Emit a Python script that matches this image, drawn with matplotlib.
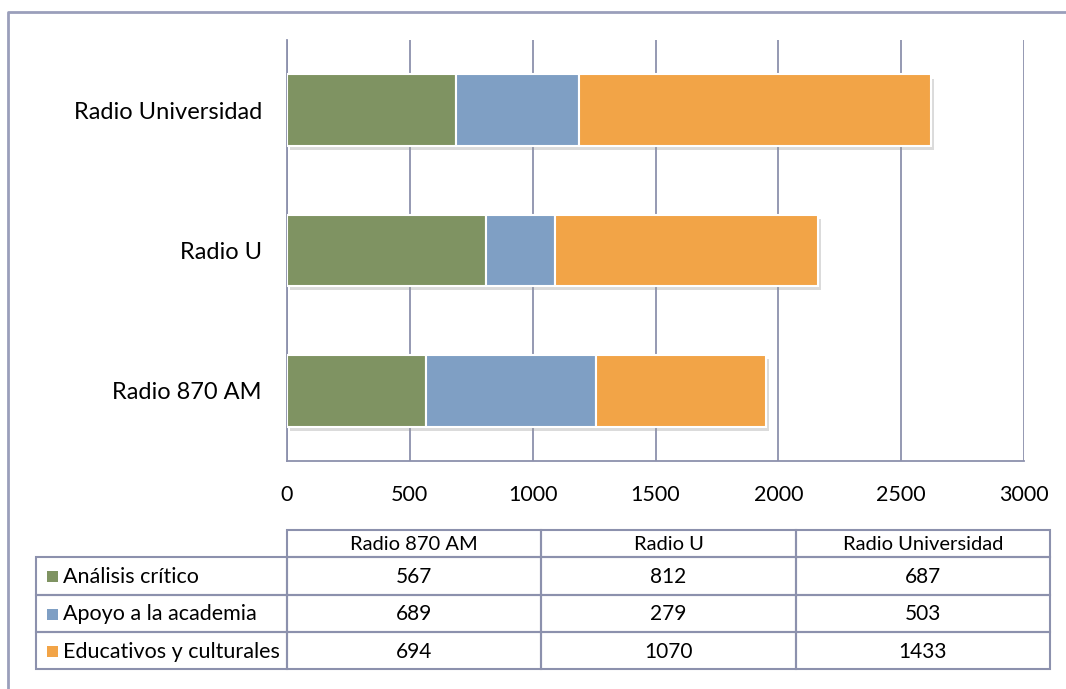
import matplotlib
matplotlib.use('Agg')
from matplotlib import pyplot as plt
from matplotlib import patheffects as pe
from matplotlib.patches import Rectangle

plt.rcParams['font.family'] = ['Lato', 'DejaVu Sans']

emisoras = ['Radio 870 AM', 'Radio U', 'Radio Universidad']
series = ['Análisis crítico', 'Apoyo a la academia', 'Educativos y culturales']
analisis = [567, 812, 687]
apoyo = [689, 279, 503]
educativos = [694, 1070, 1433]
colores = ['#7f9362', '#7f9fc4', '#f2a447']
ticks_x = [0, 500, 1000, 1500, 2000, 2500, 3000]

W, H = 1066, 689
gris = '#8c91ad'

fig = plt.figure(figsize=(W / 100, H / 100), dpi=100)

# marco exterior y tabla, en coordenadas de pixel
fondo = fig.add_axes([0, 0, 1, 1])
fondo.set_xlim(0, W)
fondo.set_ylim(H, 0)
fondo.axis('off')
fondo.plot([8, 8, W + 5], [H + 5, 12, 12], color='#9a9fbb', lw=2, clip_on=False)

# grafico
ax = fig.add_axes([287 / W, 1 - 461 / H, (1024 - 287) / W, (461 - 40) / H])
valores = [analisis, apoyo, educativos]
izq = [0, 0, 0]
sombra = [pe.SimplePatchShadow(offset=(2, -3), shadow_rgbFace='#999999', alpha=0.35), pe.Normal()]
for nombre, vals, c in zip(series, valores, colores):
    barras = ax.barh(emisoras, vals, left=izq, height=0.51, color=c,
                     edgecolor='white', linewidth=1.5, label=nombre, zorder=3)
    for b in barras:
        b.set_path_effects(sombra)
    izq = [a + b for a, b in zip(izq, vals)]

ax.set_xlim(0, 3000)
ax.set_ylim(-0.5, 2.5)
ax.set_xticks(ticks_x)
ax.set_xticklabels([str(t) for t in ticks_x], fontsize=15.5)
ax.tick_params(axis='x', length=0, pad=17)
ax.tick_params(axis='y', length=0, pad=18, labelsize=17)
ax.grid(axis='x', color=gris, lw=1.3, zorder=0)
for s in ['top', 'right']:
    ax.spines[s].set_visible(False)
ax.spines['left'].set_color(gris)
ax.spines['bottom'].set_color(gris)
ax.spines['left'].set_linewidth(1.3)
ax.spines['bottom'].set_linewidth(1.3)

# tabla de datos
xs = [36, 287, 541, 796, 1050]
ys = [530, 557, 595, 632, 669]
lw_t = 1.5
# encabezado
for j, emisora in enumerate(emisoras):
    fondo.add_patch(Rectangle((xs[j + 1], ys[0]), xs[j + 2] - xs[j + 1], ys[1] - ys[0],
                              fill=False, edgecolor=gris, lw=lw_t))
    fondo.text((xs[j + 1] + xs[j + 2]) / 2, (ys[0] + ys[1]) / 2 + 1, emisora,
               ha='center', va='center', fontsize=14.5)
for i, (nombre, vals, c) in enumerate(zip(series, valores, colores)):
    y0, y1 = ys[i + 1], ys[i + 2]
    ym = (y0 + y1) / 2 + 1
    fondo.add_patch(Rectangle((xs[0], y0), xs[1] - xs[0], y1 - y0,
                              fill=False, edgecolor=gris, lw=lw_t))
    fondo.add_patch(Rectangle((47, ym - 6), 11, 11, color=c, lw=0))
    fondo.text(63, ym, nombre, ha='left', va='center', fontsize=15.5)
    for j, v in enumerate(vals):
        fondo.add_patch(Rectangle((xs[j + 1], y0), xs[j + 2] - xs[j + 1], y1 - y0,
                                  fill=False, edgecolor=gris, lw=lw_t))
        fondo.text((xs[j + 1] + xs[j + 2]) / 2, ym, str(v),
                   ha='center', va='center', fontsize=15)

fig.savefig('out.png', dpi=100)
